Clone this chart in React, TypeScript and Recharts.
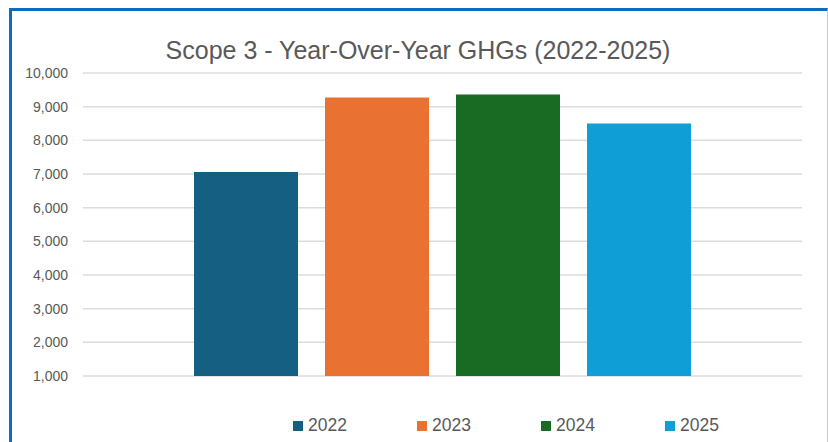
import { BarChart, Bar, XAxis, YAxis, CartesianGrid, Legend } from "recharts";

const title = "Scope 3 - Year-Over-Year GHGs (2022-2025)";
const years = ["2022", "2023", "2024", "2025"];
const emissions = [7060, 9270, 9360, 8500];
const colors = ["#156082", "#e97132", "#196b24", "#0f9ed5"];
const yTicks = [1000, 2000, 3000, 4000, 5000, 6000, 7000, 8000, 9000, 10000];

const row: Record<string, string | number> = { name: "Scope 3" };
years.forEach((y, i) => {
  row[y] = emissions[i];
});
const data = [row];

const FONT = "'Liberation Sans', Arial, sans-serif";
const TEXT = "#595959";

function YearLegend() {
  return (
    <div style={{ display: "flex", paddingLeft: 293, fontFamily: FONT }}>
      {years.map((y, i) => (
        <div key={y} style={{ width: 124, display: "flex", alignItems: "center" }}>
          <span style={{ width: 10, height: 10, background: colors[i], marginRight: 5 }} />
          <span style={{ fontSize: 17.5, color: TEXT }}>{y}</span>
        </div>
      ))}
    </div>
  );
}

export default function App() {
  return (
    <div style={{ position: "absolute", left: 0, top: 0, width: 828, height: 442, background: "#fff" }}>
      <div
        style={{
          position: "absolute",
          left: 9,
          top: 8,
          width: 819,
          height: 440,
          boxSizing: "border-box",
          borderTop: "3px solid #0f6cbd",
          borderLeft: "3px solid #0f6cbd",
          borderRight: "1px solid #c8c8c8",
        }}
      />
      <div
        style={{
          position: "absolute",
          left: 0,
          top: 35,
          width: 836,
          textAlign: "center",
          fontFamily: FONT,
          fontSize: 25,
          color: TEXT,
          lineHeight: "30px",
        }}
      >
        {title}
      </div>
      <div style={{ position: "absolute", left: 0, top: 0 }}>
        <BarChart
          width={828}
          height={442}
          data={data}
          margin={{ top: 73, right: 26, bottom: 45, left: 23 }}
          barGap={27}
        >
          <CartesianGrid horizontal vertical={false} stroke="#dcdcdc" strokeWidth={1.5} />
          <XAxis dataKey="name" hide />
          <YAxis
            width={60}
            domain={[1000, 10000]}
            ticks={yTicks}
            interval={0}
            axisLine={false}
            tickLine={false}
            tickMargin={9}
            tickFormatter={(v: number) => v.toLocaleString("en-US")}
            tick={{ fill: TEXT, fontSize: 14, fontFamily: FONT }}
          />
          <Legend
            verticalAlign="bottom"
            wrapperStyle={{ position: "absolute", left: 0, top: 415, width: 828 }}
            content={() => <YearLegend />}
          />
          {years.map((y, i) => (
            <Bar key={y} dataKey={y} fill={colors[i]} barSize={104} isAnimationActive={false} />
          ))}
        </BarChart>
      </div>
    </div>
  );
}
